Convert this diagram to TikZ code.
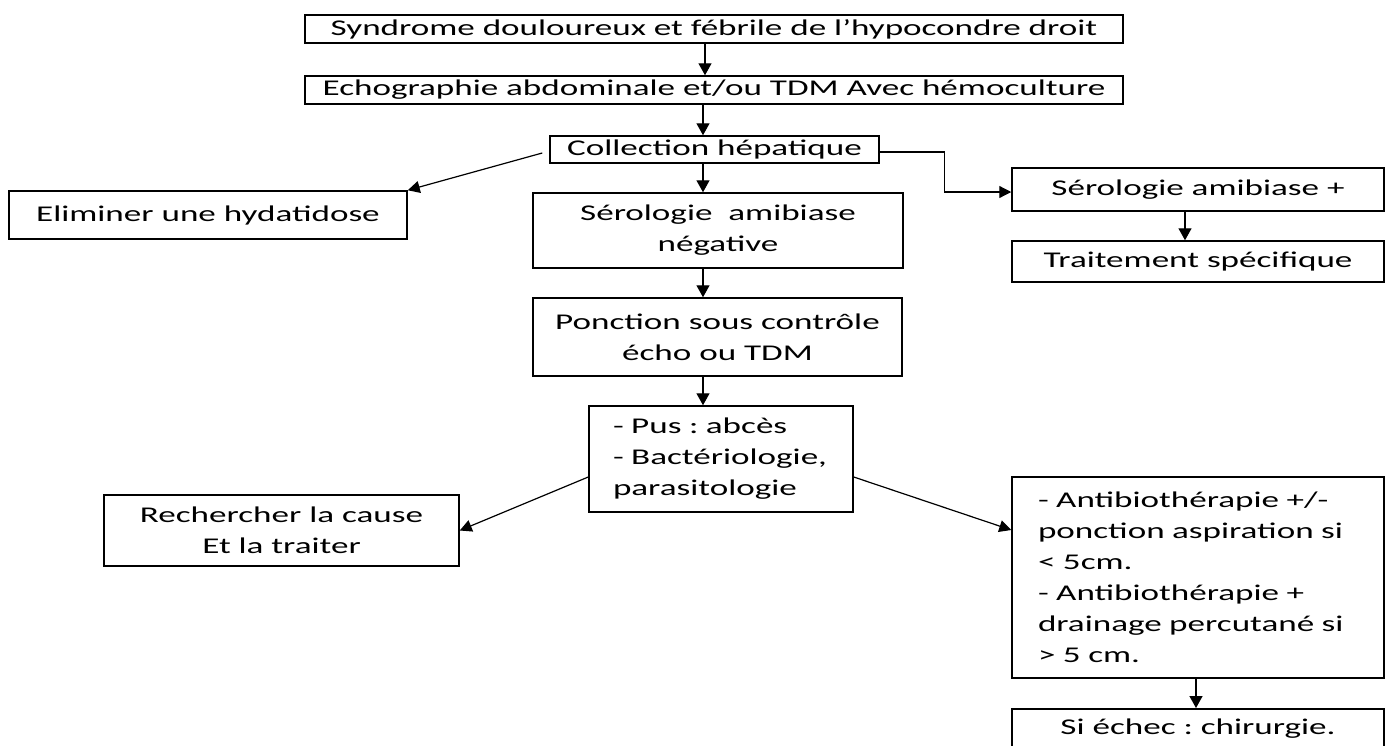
\documentclass[tikz,border=0pt]{standalone}
\usepackage{fontspec}
\setmainfont{Carlito}[FakeStretch=1.56]
\usetikzlibrary{arrows.meta}
\frenchspacing
\begin{document}
\begin{tikzpicture}[x=1pt,y=-1pt,
  box/.style={draw=black,line width=1.5pt,inner sep=0pt,align=center,
    font=\fontsize{22.5pt}{31pt}\selectfont\frenchspacing},
  lbox/.style={draw=black,line width=1.5pt,inner ysep=0pt,align=left,
    font=\fontsize{22.5pt}{31pt}\selectfont\frenchspacing},
  arr/.style={line width=1.4pt,-{Triangle[length=12pt,width=13pt]}},
  thin arr/.style={line width=1.2pt,-{Triangle[length=12pt,width=12pt]}}]
\useasboundingbox (0,0) rectangle (1390,745);
\fill[white] (0,0) rectangle (1390,745);

\node[box,minimum width=818pt,minimum height=28pt] (syn) at (714,29) {Syndrome douloureux et fébrile de l’hypocondre droit};
\node[box,minimum width=818pt,minimum height=28pt] (echo) at (714,90) {Echographie abdominale et/ou TDM Avec hémoculture};
\node[box,minimum width=329pt,minimum height=27pt] (coll) at (714.5,149.5) {Collection hépatique};
\node[box,minimum width=398pt,minimum height=48pt] (elim) at (208,215) {Eliminer une hydatidose};
\node[box,minimum width=370pt,minimum height=75pt] (sneg) at (718,230.5) {Sérologie\ \ amibiase\\négative};
\node[box,minimum width=372pt,minimum height=43pt] (spos) at (1198,189.5) {Sérologie amibiase +};
\node[box,minimum width=372pt,minimum height=41pt] (trait) at (1198,261.5) {Traitement spécifique};
\node[box,minimum width=369pt,minimum height=78pt] (ponc) at (717.5,337) {Ponction sous contrôle\\écho ou TDM};
\node[lbox,inner xsep=24pt,text width=216pt,minimum height=106pt] (pus) at (721,459) {- Pus : abcès\\- Bactériologie,\\parasitologie};
\node[box,minimum width=355pt,minimum height=71pt] (rech) at (281.5,530.5) {Rechercher la cause\\Et la traiter};
\node[lbox,inner xsep=26pt,text width=320pt,minimum height=201pt] (anti) at (1198,577.5) {- Antibiothérapie +/-\\ponction aspiration si\\< 5cm.\\- Antibiothérapie +\\drainage percutané si\\> 5 cm.};
\node[box,anchor=north,minimum width=372pt,text height=26pt,text depth=40pt] (echec) at (1198,708) {Si échec : chirurgie.};

\coordinate (ca) at (705,0);
\coordinate (cb) at (703,0);
\coordinate (cc) at (1185,0);
\coordinate (cd) at (1196,0);

\draw[arr] (syn.south -| ca) -- (echo.north -| ca);
\draw[arr] (echo.south -| cb) -- (coll.north -| cb);
\draw[arr] (coll.south -| cb) -- (sneg.north -| cb);
\draw[arr] (sneg.south -| cb) -- (ponc.north -| cb);
\draw[arr] (ponc.south -| cb) -- (pus.north -| cb);
\draw[thin arr] ([xshift=-7pt,yshift=-3.5pt]coll.west) -- (elim.north east);
\draw[thin arr] ([yshift=-2.5pt]coll.east) -- ++(65,0) |- ([yshift=-2.5pt]spos.west);
\draw[arr] (spos.south -| cc) -- (trait.north -| cc);
\draw[thin arr] ([yshift=-18pt]pus.west) -- (rech.east);
\draw[thin arr] ([yshift=-18pt]pus.east) -- ([yshift=47.5pt]anti.west);
\draw[arr] (anti.south -| cd) -- (echec.north -| cd);
\end{tikzpicture}
\end{document}
